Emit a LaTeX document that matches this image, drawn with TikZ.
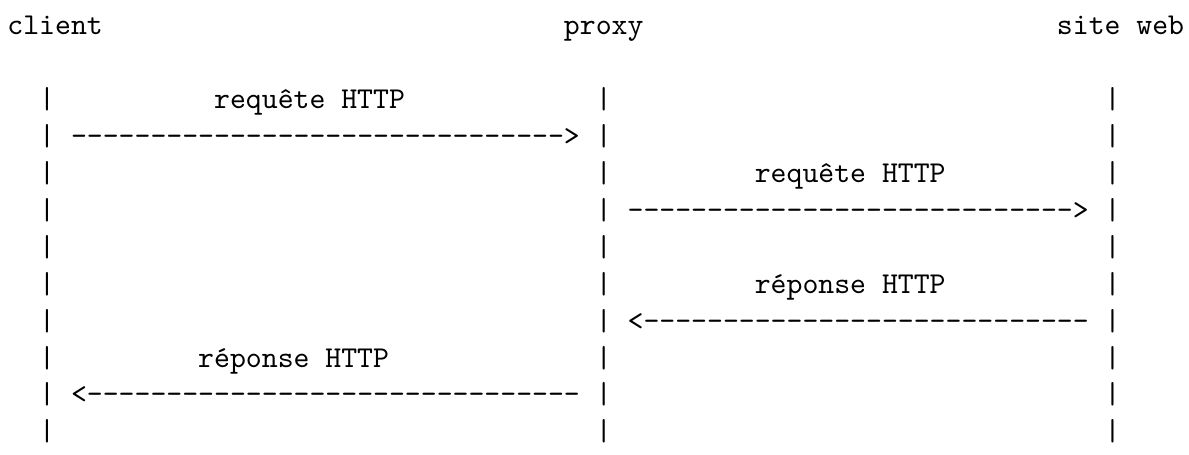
\documentclass[tikz,border=0pt]{standalone}
\usepackage{tikz}
\newcommand{\dashrun}[1]{\foreach \dsh in {1,...,#1}{-}}

\begin{document}
\begin{tikzpicture}[x=5.25pt, y=12.18pt,
    every node/.style={font=\ttfamily, inner sep=0pt, anchor=base west}]
    \useasboundingbox (-2.25pt,11.55pt) rectangle (390.3pt,-138.65pt);
    \node (client) at (0,0) {client};
    \node (proxy) at (35,0) {proxy};
    \node (site) at (66,0) {site web};
    % life lines
    \foreach \r in {2,...,11}
      \foreach \c/\n in {2/c,37/p,69/s}
        \node (\n\r) at (\c,-\r) {|};
    \node (reqa) at (13,-2) {requête HTTP};
    \node (fwda) at (4,-3) {\dashrun{31}>};
    \node (reqb) at (47,-4) {requête HTTP};
    \node (fwdb) at (39,-5) {\dashrun{28}>};
    \node (repb) at (47,-7) {réponse HTTP};
    \node (bckb) at (39,-8) {<\dashrun{28}};
    \node (repa) at (12,-9) {réponse HTTP};
    \node (bcka) at (4,-10) {<\dashrun{31}};
  \end{tikzpicture}
\end{document}
